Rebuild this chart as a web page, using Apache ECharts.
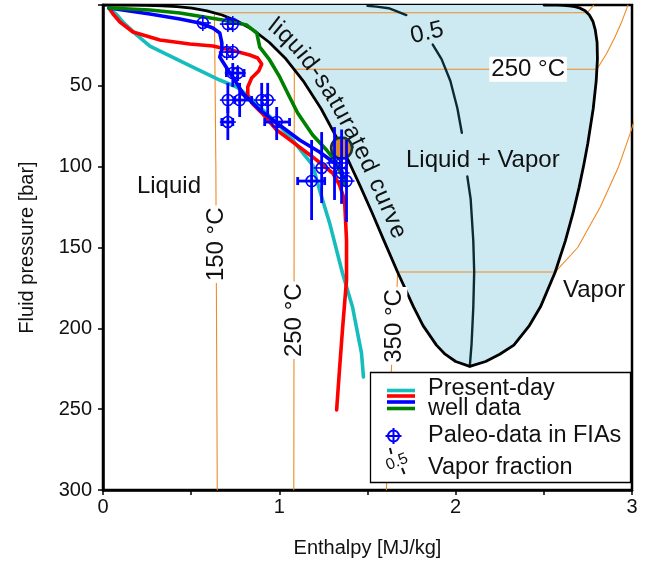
<!DOCTYPE html>
<html>
<head>
<meta charset="utf-8">
<script src="https://cdn.jsdelivr.net/npm/echarts@6/dist/echarts.min.js"></script>
<style>
html,body{margin:0;padding:0;background:#fff;}
#chart{width:651px;height:564px;}
</style>
</head>
<body>
<div id="chart"></div>
<script>
// ---------------- DATA (enthalpy in MJ/kg, pressure in bar) ----------------
// saturation (two-phase) boundary
const satP  = [0.006,0.0234,0.0738,0.1995,0.474,1.014,1.987,3.615,6.182,10.03,15.55,23.2,33.47,46.92,64.17,85.88,98.65,112.8,128.5,145.9,165.3,186.7,198.3,210.4,216.0,220.5];
const satHl = [0.000,0.084,0.168,0.251,0.335,0.419,0.504,0.589,0.675,0.763,0.853,0.944,1.038,1.135,1.237,1.344,1.402,1.462,1.526,1.594,1.671,1.761,1.815,1.891,1.940,2.000];
const satHv = [2.501,2.537,2.574,2.609,2.643,2.676,2.706,2.734,2.758,2.778,2.792,2.802,2.804,2.797,2.780,2.749,2.727,2.700,2.666,2.622,2.564,2.481,2.418,2.330,2.250,2.170];
const critH = 2.08, critP = 223.5;

// isotherms
const iso150H = [0.648,0.640,0.632,2.746,2.776,2.783];
const iso150P = [300,100,4.76,4.76,1.0,0];
const iso250H = [1.082,1.085,2.801,2.856,2.903,2.943,2.974,2.977];
const iso250P = [300,39.7,39.7,30,20,10,1,0];
const iso350H = [1.607,1.636,1.662,1.671,2.564,2.692,2.820,2.924,2.988,3.017];
const iso350P = [300,224,190,165.2,165.2,150,125,100,80,70];

// vapor fraction 0.5 contour (three visible pieces)
const vf1H = [1.50,1.55,1.62,1.66,1.72];
const vf1P = [0.5,1.0,2.0,3.6,6.2];
const vf2H = [1.87,1.92,1.97,2.01,2.035];
const vf2P = [24.5,33.5,47,64,79];
const vf3H = [2.066,2.085,2.10,2.105,2.10,2.09,2.08];
const vf3P = [106,120,146,165,187,210,223.5];

// present-day well data
const cyanH = [0.034,0.074,0.113,0.192,0.266,0.379,0.521,0.662,0.758,0.832,0.906,1.002,1.075,1.143,1.189,1.228,1.285,1.358,1.415,1.466,1.477];
const cyanP = [1.9,5.6,10.5,18.6,25.4,31.5,39.0,46.4,50.7,56.9,64.9,74.8,83.5,92.8,99.0,114.4,134.8,165.8,186.8,215.3,230.1];
const redH = [0.034,0.057,0.096,0.170,0.323,0.492,0.623,0.747,0.832,0.877,0.900,0.883,0.843,0.821,0.821,0.849,0.906,0.985,1.075,1.189,1.302,1.341,1.370,1.381,1.381,1.358,1.341,1.325];
const redP = [1.9,5.6,10.5,16.7,21.6,24.1,25.4,28.5,30.9,32.8,36.5,40.8,45.2,50.7,56.9,61.2,67.4,77.3,84.7,94.0,103.9,111.3,120.6,145.4,170.1,201.0,225.8,250.5];
const blueH = [0.034,0.266,0.436,0.549,0.623,0.662,0.674,0.674,0.662,0.691,0.719,0.747,0.792,0.889,0.985,1.115,1.228,1.313,1.353,1.370];
const blueP = [1.9,5.6,8.7,11.1,14.2,17.3,23.5,27.8,32.2,37.1,42.1,46.4,54.4,64.9,73.0,83.5,90.9,97.7,102.1,110.1];
const greenH = [0.034,0.266,0.436,0.679,0.815,0.872,0.889,0.945,1.002,1.058,1.104,1.189,1.268,1.325,1.353,1.370];
const greenP = [1.9,3.1,4.9,9.3,12.4,17.3,26.0,34.0,44.5,56.9,66.8,80.4,89.7,97.7,105.2,111.3];

// paleo-data in FIAs (with error ranges, null = none)
const paleoH   = [0.566,0.708,0.736,0.702,0.736,0.736,0.764,0.708,0.775,0.900,0.934,0.708,0.985,1.183,1.240,1.313,1.353,1.353,1.381];
const paleoP   = [11.1,11.8,11.8,29.1,29.1,42.1,42.1,58.8,58.8,58.8,58.8,72.4,72.4,108.9,100.8,97.7,97.7,103.9,108.9];
const paleoHlo = [null,null,null,null,null,0.700,null,null,0.747,null,null,0.674,0.917,1.104,null,null,null,null,null];
const paleoHhi = [null,null,null,null,null,0.800,null,null,0.843,null,null,0.736,1.058,1.257,null,null,null,null,null];
const paleoPlo = [null,null,null,null,null,35.9,38,48.2,48.2,48.2,48.2,63.1,63.1,83.5,78.6,75.5,77,null,83.5];
const paleoPhi = [null,null,null,null,null,50.7,47,66.8,69.3,66.8,68,83.5,83.5,133,122.5,120.6,123,null,134.2];

// highlighted present-day point
const hotH = [1.353], hotP = [88.5];

// tick labels
const xTickLabels = ['0','1','2','3'];
const yTickLabels = ['50','100','150','200','250','300'];

// text annotations
const annText = ['Liquid','Vapor','Liquid + Vapor','0.5','250 °C','150 °C','250 °C','350 °C'];
const annH    = [0.374,2.785,2.154,1.837,2.411,0.642,1.087,1.655];
const annP    = [112,176.3,95.9,17.3,39.7,148,195,198.5];
const curveLabel = 'liquid-saturated curve';

// ---------------- CHART ----------------
const FF = '"Liberation Sans", Arial, Helvetica, sans-serif';
const BIG = 24;
const zip = (a,b) => a.map((v,i)=>[v,b[i]]);
const chart = echarts.init(document.getElementById('chart'), null, {renderer:'canvas'});

const domePts = zip(satHl,satP).concat([[critH,critP]]).concat(zip(satHv,satP).reverse());

function lineSeries(name, data, color, width, z){
  return {type:'line', name, data, showSymbol:false, symbol:'none', z, silent:true,
    lineStyle:{color, width, cap:'round', join:'round'}, animation:false};
}

function renderCurveText(params, api){
  const font = BIG + 'px ' + FF;
  const ctx = document.createElement('canvas').getContext('2d'); ctx.font = font;
  const guide = satHl.map((h,i)=>api.coord([h, satP[i]])).concat([api.coord([critH,critP])]);
  const d=[];
  for (let i=0;i<guide.length-1;i++){
    const x1=guide[i][0],y1=guide[i][1],x2=guide[i+1][0],y2=guide[i+1][1];
    const n=Math.max(1,Math.ceil(Math.hypot(x2-x1,y2-y1)/2));
    for(let k=0;k<n;k++) d.push([x1+(x2-x1)*k/n, y1+(y2-y1)*k/n]);
  }
  d.push(guide[guide.length-1]);
  function mk(pts){
    const cum=[0];
    for(let i=1;i<pts.length;i++) cum.push(cum[i-1]+Math.hypot(pts[i][0]-pts[i-1][0],pts[i][1]-pts[i-1][1]));
    const at=(s)=>{ s=Math.max(0,Math.min(cum[cum.length-1],s)); let i=1; while(i<cum.length-1 && cum[i]<s) i++;
      const t=(s-cum[i-1])/((cum[i]-cum[i-1])||1); return [pts[i-1][0]+(pts[i][0]-pts[i-1][0])*t, pts[i-1][1]+(pts[i][1]-pts[i-1][1])*t]; };
    return {cum, at};
  }
  const g = mk(d);
  const OFF = 16;
  const off = d.map((p,i)=>{ const a=g.at(g.cum[i]-12), b=g.at(g.cum[i]+12); let tx=b[0]-a[0], ty=b[1]-a[1]; const L=Math.hypot(tx,ty)||1; tx/=L; ty/=L; return [p[0]+ty*OFF, p[1]-tx*OFF]; });
  const o = mk(off);
  const yStart = api.coord([0, 19])[1];
  let idx = 0; while(idx<d.length-1 && d[idx][1] < yStart) idx++;
  let s = o.cum[idx];
  const children=[];
  for (const ch of curveLabel){
    const w = ctx.measureText(ch).width + 1.1;
    const p = o.at(s+w/2), a=o.at(s+w/2-9), b=o.at(s+w/2+9);
    const ang = Math.atan2(b[1]-a[1], b[0]-a[0]);
    children.push({type:'text', x:p[0], y:p[1], rotation:-ang,
      style:{text:ch, font, fill:'#111', align:'center', verticalAlign:'middle', textAlign:'center', textVerticalAlign:'middle'}});
    s += w;
  }
  return {type:'group', children};
}

const series = [
  {type:'custom', name:'dome', coordinateSystem:'cartesian2d', z:1, silent:true, data:[[0,0]],
    renderItem:(params, api)=>({type:'polygon', shape:{points:domePts.map(p=>api.coord(p))}, style:{fill:'#cdeaf2', stroke:null}})},
  lineSeries('iso150', zip(iso150H,iso150P), '#ef8a25', 1.1, 2),
  lineSeries('iso250', zip(iso250H,iso250P), '#ef8a25', 1.1, 2),
  lineSeries('iso350', zip(iso350H,iso350P), '#ef8a25', 1.1, 2),
  lineSeries('vf1', zip(vf1H,vf1P), '#0b2a33', 2.4, 3),
  lineSeries('vf2', zip(vf2H,vf2P), '#0b2a33', 2.4, 3),
  lineSeries('vf3', zip(vf3H,vf3P), '#0b2a33', 2.4, 3),
  lineSeries('dome-outline', domePts, '#000', 2.8, 4),
  {type:'custom', name:'annotations', coordinateSystem:'cartesian2d', z:5, silent:true, data:annText.map((t,i)=>[annH[i],annP[i]]),
    renderItem:(params, api)=>{
      const i = params.dataIndex; const c = api.coord([annH[i], annP[i]]);
      const isIso = i>=4, vertical = i>=5;
      const rot = vertical ? Math.PI/2 : (i===3 ? 13*Math.PI/180 : 0);
      return {type:'text', x:c[0], y:c[1], rotation:rot,
        style:{text:annText[i], font: BIG+'px '+FF, fill:'#111', align:'center', verticalAlign:'middle',
          textAlign:'center', textVerticalAlign:'middle',
          backgroundColor: isIso ? '#fff' : null, padding: isIso ? [1,2,0,2] : 0}};
    }},
  {type:'custom', name:'curveText', coordinateSystem:'cartesian2d', z:5, silent:true, data:[[0,0]], renderItem:renderCurveText},
  lineSeries('cyan', zip(cyanH,cyanP), '#16bdbd', 3.6, 6),
  lineSeries('red', zip(redH,redP), '#ff0000', 3.6, 7),
  lineSeries('blue', zip(blueH,blueP), '#0000ff', 3.6, 8),
  lineSeries('green', zip(greenH,greenP), '#008000', 3.6, 9),
  {type:'scatter', name:'hot', data:zip(hotH,hotP), z:10, silent:true, symbol:'circle', symbolSize:21,
    itemStyle:{color:'#da872c', borderColor:'#163539', borderWidth:2.5, opacity:1}},
  {type:'custom', name:'paleo', coordinateSystem:'cartesian2d', z:11, silent:true, data:zip(paleoH,paleoP),
    renderItem:(params, api)=>{
      const i = params.dataIndex; const c = api.coord([paleoH[i], paleoP[i]]);
      const ch=[]; const bar={stroke:'#0000ff', lineWidth:2.8, fill:null};
      if (paleoPlo[i]!=null){ const a=api.coord([paleoH[i],paleoPlo[i]]), b=api.coord([paleoH[i],paleoPhi[i]]);
        ch.push({type:'line', shape:{x1:a[0],y1:a[1],x2:b[0],y2:b[1]}, style:bar}); }
      if (paleoHlo[i]!=null){ const a=api.coord([paleoHlo[i],paleoP[i]]), b=api.coord([paleoHhi[i],paleoP[i]]);
        ch.push({type:'line', shape:{x1:a[0],y1:a[1],x2:b[0],y2:b[1]}, style:bar});
        ch.push({type:'line', shape:{x1:a[0],y1:a[1]-4,x2:a[0],y2:a[1]+4}, style:bar});
        ch.push({type:'line', shape:{x1:b[0],y1:b[1]-4,x2:b[0],y2:b[1]+4}, style:bar}); }
      const m={stroke:'#0000ff', lineWidth:1.6, fill:null};
      ch.push({type:'circle', shape:{cx:c[0],cy:c[1],r:5.5}, style:m});
      ch.push({type:'line', shape:{x1:c[0]-8,y1:c[1],x2:c[0]+8,y2:c[1]}, style:m});
      ch.push({type:'line', shape:{x1:c[0],y1:c[1]-8,x2:c[0],y2:c[1]+8}, style:m});
      return {type:'group', children:ch};
    }}
];

const LX = 428, LF = '23.5px ' + FF;
const graphic = [
  {type:'rect', z:100, shape:{x:370.5,y:372.5,width:260,height:110}, style:{fill:'#fff', stroke:'#000', lineWidth:1.3}},
  {type:'line', z:101, shape:{x1:387,y1:390.5,x2:415,y2:390.5}, style:{stroke:'#16bdbd', lineWidth:3.6}},
  {type:'line', z:101, shape:{x1:387,y1:396,x2:415,y2:396}, style:{stroke:'#ff0000', lineWidth:3.6}},
  {type:'line', z:101, shape:{x1:387,y1:402,x2:415,y2:402}, style:{stroke:'#0000ff', lineWidth:3.6}},
  {type:'line', z:101, shape:{x1:387,y1:408.5,x2:415,y2:408.5}, style:{stroke:'#008000', lineWidth:3.6}},
  {type:'text', z:101, x:LX, y:389, style:{text:'Present-day', font:LF, fill:'#111', verticalAlign:'middle', textVerticalAlign:'middle'}},
  {type:'text', z:101, x:LX, y:409, style:{text:'well data', font:LF, fill:'#111', verticalAlign:'middle', textVerticalAlign:'middle'}},
  {type:'circle', z:101, shape:{cx:393.5,cy:436,r:5.5}, style:{fill:null, stroke:'#0000ff', lineWidth:2}},
  {type:'line', z:101, shape:{x1:385.5,y1:436,x2:401.5,y2:436}, style:{stroke:'#0000ff', lineWidth:2}},
  {type:'line', z:101, shape:{x1:393.5,y1:428,x2:393.5,y2:444}, style:{stroke:'#0000ff', lineWidth:2}},
  {type:'text', z:101, x:LX, y:436, style:{text:'Paleo-data in FIAs', font:LF, fill:'#111', verticalAlign:'middle', textVerticalAlign:'middle'}},
  {type:'line', z:101, shape:{x1:390,y1:448,x2:391.5,y2:454}, style:{stroke:'#111', lineWidth:2}},
  {type:'line', z:101, shape:{x1:402,y1:468,x2:404.5,y2:474}, style:{stroke:'#111', lineWidth:2}},
  {type:'text', z:101, x:397, y:462, rotation:22*Math.PI/180, style:{text:'0.5', font:'16px '+FF, fill:'#111', align:'center', verticalAlign:'middle', textAlign:'center', textVerticalAlign:'middle'}},
  {type:'text', z:101, x:LX, y:468, style:{text:'Vapor fraction', font:LF, fill:'#111', verticalAlign:'middle', textVerticalAlign:'middle'}}
];

chart.setOption({
  animation:false,
  grid:{left:103, right:19, top:5, bottom:74, show:true, borderColor:'#000', borderWidth:2.5, backgroundColor:'transparent'},
  xAxis:{type:'value', min:0, max:3, interval:0.5,
    axisLine:{show:true, onZero:false, lineStyle:{color:'#000', width:2.5}},
    axisTick:{show:true, length:5, lineStyle:{color:'#000', width:1.5}},
    axisLabel:{color:'#111', fontSize:20, fontFamily:FF, margin:7,
      formatter:(v)=>{ const s=String(v); return xTickLabels.includes(s)?s:''; }},
    splitLine:{show:false},
    name:'Enthalpy [MJ/kg]', nameLocation:'middle', nameGap:48,
    nameTextStyle:{color:'#111', fontSize:20, fontFamily:FF}},
  yAxis:{type:'value', inverse:true, min:0, max:300, interval:50,
    axisLine:{show:true, onZero:false, lineStyle:{color:'#000', width:2.5}},
    axisTick:{show:true, length:5, lineStyle:{color:'#000', width:1.5}},
    axisLabel:{color:'#111', fontSize:20, fontFamily:FF, margin:11,
      formatter:(v)=>{ const s=String(v); return yTickLabels.includes(s)?s:''; }},
    splitLine:{show:false},
    name:'Fluid pressure [bar]', nameLocation:'middle', nameGap:66, nameRotate:90,
    nameTextStyle:{color:'#111', fontSize:20, fontFamily:FF}},
  series, graphic
});
</script>
</body>
</html>
